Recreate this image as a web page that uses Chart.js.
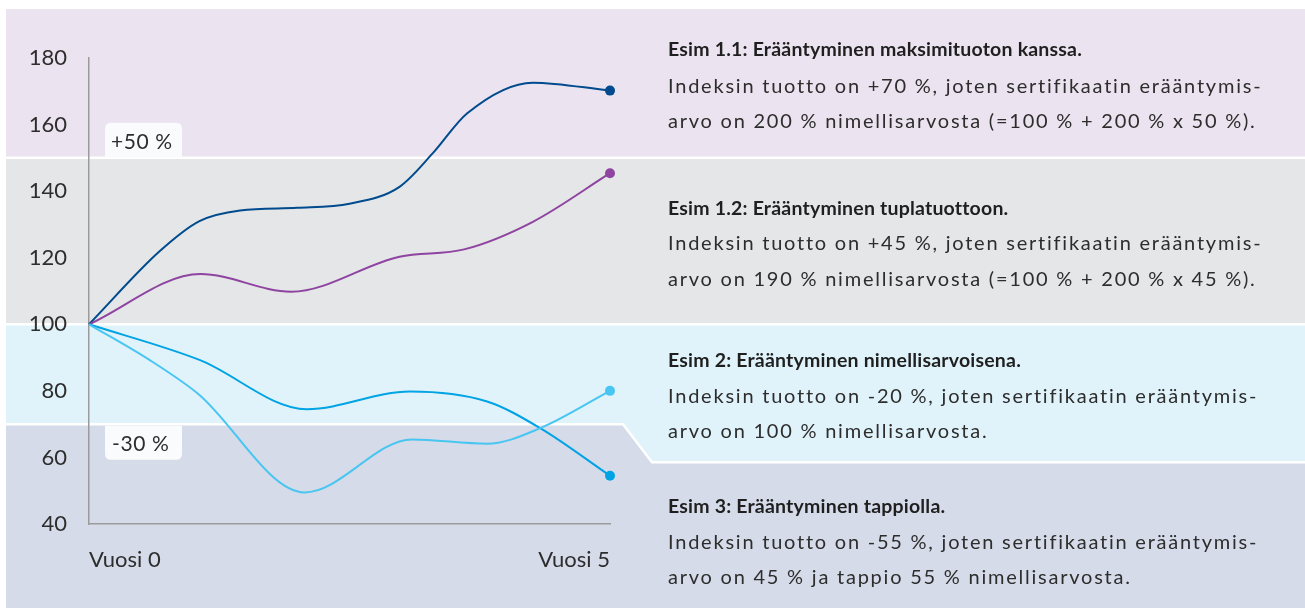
<!DOCTYPE html>
<html>
<head>
<meta charset="utf-8">
<script src="https://cdn.jsdelivr.net/npm/chart.js@4.4.1/dist/chart.umd.min.js"></script>
<style>
  html, body { margin: 0; padding: 0; background: #ffffff; }
  #wrap { width: 1305px; height: 609px; position: relative; }
</style>
</head>
<body>
<div id="wrap"><canvas id="c" width="1305" height="609"></canvas></div>
<script>
// ---- data ----
const xTickLabels = ['Vuosi 0', 'Vuosi 5'];
const yTicks = { min: 40, max: 180, step: 20 };

// x positions in years, values as index level
const darkX   = [0, 0.68, 1.06, 1.45, 2.0, 2.5, 2.98, 3.3, 3.63, 4.26, 5];
const darkY   = [100, 122, 131, 134.2, 135, 136.2, 141.3, 151.4, 163.4, 172.6, 170.2];

const purpleX = [0, 1.07, 1.94, 2.98, 3.6, 4.26, 5];
const purpleY = [100, 115.1, 109.8, 120.3, 122.5, 130.8, 145.4];

const midX    = [0, 1.06, 2.09, 3.08, 3.82, 4.33, 5];
const midY    = [100, 89.3, 74.5, 79.8, 76.8, 68.8, 54.5];

const lightX  = [0, 0.58, 1.04, 2.07, 3.1, 3.82, 4.33, 5];
const lightY  = [100, 89.3, 79.3, 49.5, 65.4, 64.1, 68.8, 80];

// band limits (index levels)
const capLevel = 150;   // +50 %
const parLevel = 100;
const barrierLevel = 70; // -30 %
const bandLabels = ['+50 %', '-30 %'];

// text blocks
const examples = [
  { title: 'Esim 1.1: Erääntyminen maksimituoton kanssa.',
    lines: ['Indeksin tuotto on +70 %, joten sertifikaatin erääntymis-',
            'arvo on 200 % nimellisarvosta (=100 % + 200 % x 50 %).'] },
  { title: 'Esim 1.2: Erääntyminen tuplatuottoon.',
    lines: ['Indeksin tuotto on +45 %, joten sertifikaatin erääntymis-',
            'arvo on 190 % nimellisarvosta (=100 % + 200 % x 45 %).'] },
  { title: 'Esim 2: Erääntyminen nimellisarvoisena.',
    lines: ['Indeksin tuotto on -20 %, joten sertifikaatin erääntymis-',
            'arvo on 100 % nimellisarvosta.'] },
  { title: 'Esim 3: Erääntyminen tappiolla.',
    lines: ['Indeksin tuotto on -55 %, joten sertifikaatin erääntymis-',
            'arvo on 45 % ja tappio 55 % nimellisarvosta.'] }
];

// ---- styles ----
const FONT = 'Lato, "Open Sans", sans-serif';
const TEXT = '#2d2d2d';
const colors = {
  dark: '#004b8d', purple: '#8e44a0', mid: '#00a3e4', light: '#48c6f1',
  bandPurple: '#ebe3ef', bandGrey: '#e5e6e8', bandLight: '#e0f3fa', bandDark: '#d5dbe9',
  axis: '#9b9b9b', box: '#fafbfc'
};

function pts(xs, ys) { return xs.map((x, i) => ({ x: x, y: ys[i] })); }
function ds(xs, ys, color) {
  return {
    data: pts(xs, ys),
    borderColor: color, backgroundColor: color,
    borderWidth: 2, cubicInterpolationMode: 'monotone', fill: false, clip: false,
    pointRadius: c => c.dataIndex === c.dataset.data.length - 1 ? 5 : 0,
    pointHoverRadius: 0, pointBorderWidth: 0
  };
}

function roundRect(ctx, x, y, w, h, r, top) {
  ctx.beginPath();
  if (top) {
    ctx.moveTo(x, y + h); ctx.lineTo(x, y + r); ctx.quadraticCurveTo(x, y, x + r, y);
    ctx.lineTo(x + w - r, y); ctx.quadraticCurveTo(x + w, y, x + w, y + r); ctx.lineTo(x + w, y + h);
  } else {
    ctx.moveTo(x, y); ctx.lineTo(x, y + h - r); ctx.quadraticCurveTo(x, y + h, x + r, y + h);
    ctx.lineTo(x + w - r, y + h); ctx.quadraticCurveTo(x + w, y + h, x + w, y + h - r); ctx.lineTo(x + w, y);
  }
  ctx.closePath();
}

// spacing so that a string fills a given width
function spacingFor(ctx, str, target) {
  ctx.letterSpacing = '0px';
  const w = ctx.measureText(str).width;
  return (target - w) / str.length;
}

const bandsPlugin = {
  id: 'bands',
  beforeDraw(chart) {
    const ctx = chart.ctx, ys = chart.scales.y, W = chart.width;
    const L = 6, T = 9, B = 608;
    const yCap = ys.getPixelForValue(capLevel);
    const yPar = ys.getPixelForValue(parLevel);
    const yBar = ys.getPixelForValue(barrierLevel);
    const slantX0 = 623, slantX1 = 652, slantY = yBar + 38;
    ctx.save();
    ctx.fillStyle = '#ffffff'; ctx.fillRect(0, 0, W, chart.height);
    ctx.fillStyle = colors.bandPurple; ctx.fillRect(L, T, W - L, yCap - T);
    ctx.fillStyle = colors.bandGrey; ctx.fillRect(L, yCap, W - L, yPar - yCap);
    ctx.fillStyle = colors.bandDark; ctx.fillRect(L, yBar, W - L, B - yBar);
    ctx.fillStyle = colors.bandLight;
    ctx.beginPath();
    ctx.moveTo(L, yPar); ctx.lineTo(W, yPar); ctx.lineTo(W, slantY);
    ctx.lineTo(slantX1, slantY); ctx.lineTo(slantX0, yBar); ctx.lineTo(L, yBar);
    ctx.closePath(); ctx.fill();
    ctx.strokeStyle = '#ffffff'; ctx.lineWidth = 2.5;
    ctx.beginPath(); ctx.moveTo(L, yCap); ctx.lineTo(W, yCap); ctx.stroke();
    ctx.beginPath(); ctx.moveTo(L, yPar); ctx.lineTo(W, yPar); ctx.stroke();
    ctx.beginPath(); ctx.moveTo(L, yBar); ctx.lineTo(slantX0, yBar); ctx.lineTo(slantX1, slantY); ctx.lineTo(W, slantY); ctx.stroke();

    // level label boxes
    const bx = 105, bw = 77, bh = 34;
    ctx.fillStyle = colors.box;
    roundRect(ctx, bx, yCap - bh - 1, bw, bh, 6, true); ctx.fill();
    roundRect(ctx, bx, yBar + 1.5, bw, bh, 6, false); ctx.fill();
    ctx.fillStyle = TEXT; ctx.font = '21px ' + FONT;
    ctx.textAlign = 'left'; ctx.textBaseline = 'alphabetic';
    ctx.letterSpacing = '0.6px';
    ctx.fillText(bandLabels[0], 111, yCap - 9);
    ctx.fillText(bandLabels[1], 112, yBar + 27);

    // text blocks
    const tx = 668;
    const baselines = [[56, 93, 128], [215, 250, 286], [367, 403, 438], [513, 549, 584]];
    const titleFont = 'bold 19.5px ' + FONT;
    const bodyFont = '20px ' + FONT;
    ctx.font = titleFont;
    const titleSp = spacingFor(ctx, examples[0].title, 414);
    ctx.font = bodyFont;
    const bodySp = spacingFor(ctx, examples[0].lines[0], 594);
    examples.forEach((e, i) => {
      const b = baselines[i];
      ctx.fillStyle = '#1f1f1f';
      ctx.font = titleFont;
      ctx.letterSpacing = titleSp + 'px';
      ctx.fillText(e.title, tx, b[0]);
      ctx.fillStyle = TEXT;
      ctx.font = bodyFont;
      ctx.letterSpacing = bodySp + 'px';
      e.lines.forEach((l, j) => ctx.fillText(l, tx, b[j + 1]));
    });
    ctx.restore();
  }
};

new Chart(document.getElementById('c'), {
  type: 'line',
  data: {
    datasets: [
      ds(lightX, lightY, colors.light),
      ds(midX, midY, colors.mid),
      ds(purpleX, purpleY, colors.purple),
      ds(darkX, darkY, colors.dark)
    ]
  },
  options: {
    responsive: false, animation: false, events: [],
    layout: { padding: { left: 0, right: 695, top: 58, bottom: 0 } },
    plugins: { legend: { display: false }, tooltip: { enabled: false } },
    scales: {
      x: {
        type: 'linear', min: 0, max: 5,
        afterBuildTicks: a => { a.ticks = [{ value: 0 }, { value: 5 }]; },
        afterFit: s => { s.height = 85; },
        grid: { display: false, drawTicks: false },
        border: { display: true, color: colors.axis, width: 1.5 },
        ticks: {
          align: 'inner', padding: 23, color: TEXT, font: { family: FONT, size: 22 },
          callback: v => v === 0 ? xTickLabels[0] : xTickLabels[1]
        }
      },
      y: {
        min: yTicks.min, max: yTicks.max,
        afterFit: s => { s.width = 89; },
        grid: { display: false, drawTicks: false },
        border: { display: true, color: colors.axis, width: 1.5 },
        ticks: { stepSize: yTicks.step, padding: 22, color: TEXT, font: { family: FONT, size: 22 } }
      }
    }
  },
  plugins: [bandsPlugin]
});
</script>
</body>
</html>
